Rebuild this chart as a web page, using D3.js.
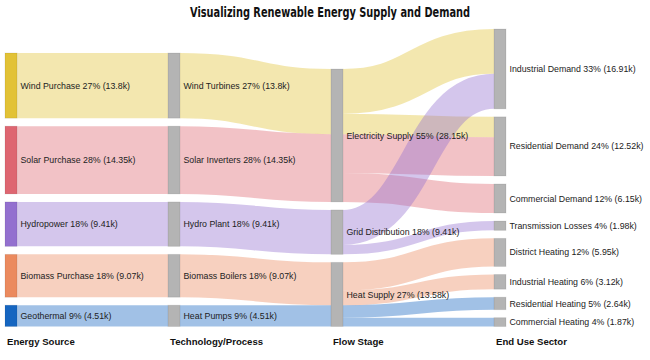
<!DOCTYPE html>
<html>
<head>
<meta charset="utf-8">
<script src="https://cdn.jsdelivr.net/npm/d3@7"></script>
<style>
  html, body { margin: 0; padding: 0; background: #fff; }
  svg { display: block; }
</style>
</head>
<body>
<svg id="chart" width="650" height="360"></svg>
<script>
// ---------- DATA ----------
const title = "Visualizing Renewable Energy Supply and Demand";
const columnTitles = ["Energy Source", "Technology/Process", "Flow Stage", "End Use Sector"];

const sourceNodes = ["Wind Purchase", "Solar Purchase", "Hydropower", "Biomass Purchase", "Geothermal"];
const techNodes = ["Wind Turbines", "Solar Inverters", "Hydro Plant", "Biomass Boilers", "Heat Pumps"];
const stageNodes = ["Electricity Supply", "Grid Distribution", "Heat Supply"];
const endNodes = ["Industrial Demand", "Residential Demand", "Commercial Demand", "Transmission Losses",
                  "District Heating", "Industrial Heating", "Residential Heating", "Commercial Heating"];

const sourceColors = ["#e2c236", "#de6671", "#9370cf", "#eb8a5e", "#1565c0"];

// links: source, target, value (thousands), originating energy source
const linkFrom = ["Wind Purchase", "Solar Purchase", "Hydropower", "Biomass Purchase", "Geothermal",
                  "Wind Turbines", "Solar Inverters", "Hydro Plant", "Biomass Boilers", "Heat Pumps",
                  "Electricity Supply", "Electricity Supply", "Electricity Supply", "Electricity Supply",
                  "Grid Distribution", "Grid Distribution",
                  "Heat Supply", "Heat Supply", "Heat Supply", "Heat Supply"];
const linkTo = ["Wind Turbines", "Solar Inverters", "Hydro Plant", "Biomass Boilers", "Heat Pumps",
                "Electricity Supply", "Electricity Supply", "Grid Distribution", "Heat Supply", "Heat Supply",
                "Industrial Demand", "Residential Demand", "Residential Demand", "Commercial Demand",
                "Industrial Demand", "Transmission Losses",
                "District Heating", "Industrial Heating", "Residential Heating", "Commercial Heating"];
const linkValues = [13.8, 14.35, 9.41, 9.07, 4.51,
                    13.8, 14.35, 9.41, 9.07, 4.51,
                    9.48, 4.32, 8.2, 6.15,
                    7.43, 1.98,
                    5.95, 3.12, 2.64, 1.87];
const linkFuel = ["Wind Purchase", "Solar Purchase", "Hydropower", "Biomass Purchase", "Geothermal",
                  "Wind Purchase", "Solar Purchase", "Hydropower", "Biomass Purchase", "Geothermal",
                  "Wind Purchase", "Wind Purchase", "Solar Purchase", "Solar Purchase",
                  "Hydropower", "Hydropower",
                  "Biomass Purchase", "Biomass Purchase", "Geothermal", "Geothermal"];

// ---------- LAYOUT ----------
const W = 650, H = 360;
const extent = { x0: 5, y0: 29, x1: 506, y1: 326.5 };
const nodeWidth = 12, nodePad = 8;
const columns = [sourceNodes, techNodes, stageNodes, endNodes];

const colorScale = d3.scaleOrdinal().domain(sourceNodes).range(sourceColors);

const nodeMap = new Map();
columns.forEach((col, ci) => col.forEach((name, i) => {
  nodeMap.set(name, { name, depth: ci, index: i, sourceLinks: [], targetLinks: [] });
}));
const links = linkFrom.map((s, i) => ({
  index: i, source: nodeMap.get(s), target: nodeMap.get(linkTo[i]),
  value: linkValues[i], fuel: linkFuel[i]
}));
links.forEach(l => { l.source.sourceLinks.push(l); l.target.targetLinks.push(l); });
const nodes = Array.from(nodeMap.values());
nodes.forEach(n => {
  n.value = Math.max(d3.sum(n.sourceLinks, l => l.value), d3.sum(n.targetLinks, l => l.value));
});
const total = d3.sum(sourceNodes, n => nodeMap.get(n).value);

const xScale = d3.scaleLinear().domain([0, columns.length - 1]).range([extent.x0, extent.x1 - nodeWidth]);
const ky = d3.min(columns, col =>
  (extent.y1 - extent.y0 - (col.length - 1) * nodePad) / d3.sum(col, n => nodeMap.get(n).value));
const hScale = d3.scaleLinear().domain([0, 1]).range([0, ky]);

columns.forEach((col, ci) => {
  const colH = hScale(d3.sum(col, n => nodeMap.get(n).value)) + (col.length - 1) * nodePad;
  let y = extent.y1 - colH; // bottom aligned
  col.forEach(name => {
    const n = nodeMap.get(name);
    n.x0 = xScale(ci); n.x1 = n.x0 + nodeWidth;
    n.y0 = y; n.y1 = y + hScale(n.value);
    y = n.y1 + nodePad;
  });
});
nodes.forEach(n => {
  n.sourceLinks.sort((a, b) => (a.target.y0 - b.target.y0) || (a.index - b.index));
  n.targetLinks.sort((a, b) => (a.source.y0 - b.source.y0) || (a.index - b.index));
  let y = n.y0;
  n.sourceLinks.forEach(l => { l.width = hScale(l.value); l.y0 = y + l.width / 2; y += l.width; });
  y = n.y0;
  n.targetLinks.forEach(l => { l.y1 = y + l.width / 2; y += l.width; });
});

// ---------- DRAW ----------
const svg = d3.select("#chart");

svg.append("text")
  .attr("x", 330).attr("y", 17)
  .attr("text-anchor", "middle")
  .attr("font-family", "'DejaVu Sans Condensed', 'Liberation Sans', sans-serif")
  .attr("font-weight", "bold")
  .attr("font-size", 13.5)
  .attr("textLength", 280)
  .attr("lengthAdjust", "spacingAndGlyphs")
  .attr("fill", "#111")
  .text(title);

const linkPath = d3.linkHorizontal()
  .source(d => [d.source.x1, d.y0])
  .target(d => [d.target.x0, d.y1]);

svg.append("g")
  .attr("fill", "none")
  .selectAll("path")
  .data(links)
  .join("path")
  .attr("d", linkPath)
  .attr("stroke", d => colorScale(d.fuel))
  .attr("stroke-opacity", 0.4)
  .attr("stroke-width", d => Math.max(1, d.width));

svg.append("g")
  .selectAll("rect")
  .data(nodes)
  .join("rect")
  .attr("x", d => d.x0)
  .attr("y", d => d.y0)
  .attr("width", d => d.x1 - d.x0)
  .attr("height", d => d.y1 - d.y0)
  .attr("fill", d => d.depth === 0 ? colorScale(d.name) : "#b4b4b4")
  .attr("stroke", "rgba(0,0,0,0.08)")
  .attr("stroke-width", 1);

svg.append("g")
  .attr("font-family", "'Liberation Sans', Arial, sans-serif")
  .attr("font-size", 8.8)
  .attr("fill", "#222")
  .selectAll("text")
  .data(nodes)
  .join("text")
  .attr("x", d => d.x1 + 3.5)
  .attr("y", d => (d.y0 + d.y1) / 2)
  .attr("dy", "0.35em")
  .text(d => `${d.name} ${Math.round(d.value / total * 100)}% (${d3.format(".4~")(d.value)}k)`);

svg.append("g")
  .attr("font-family", "'Liberation Sans', Arial, sans-serif")
  .attr("font-size", 9.6)
  .attr("font-weight", "bold")
  .attr("fill", "#111")
  .selectAll("text")
  .data(columnTitles)
  .join("text")
  .attr("x", (d, i) => xScale(i) + 2)
  .attr("y", 345)
  .text(d => d);
</script>
</body>
</html>
